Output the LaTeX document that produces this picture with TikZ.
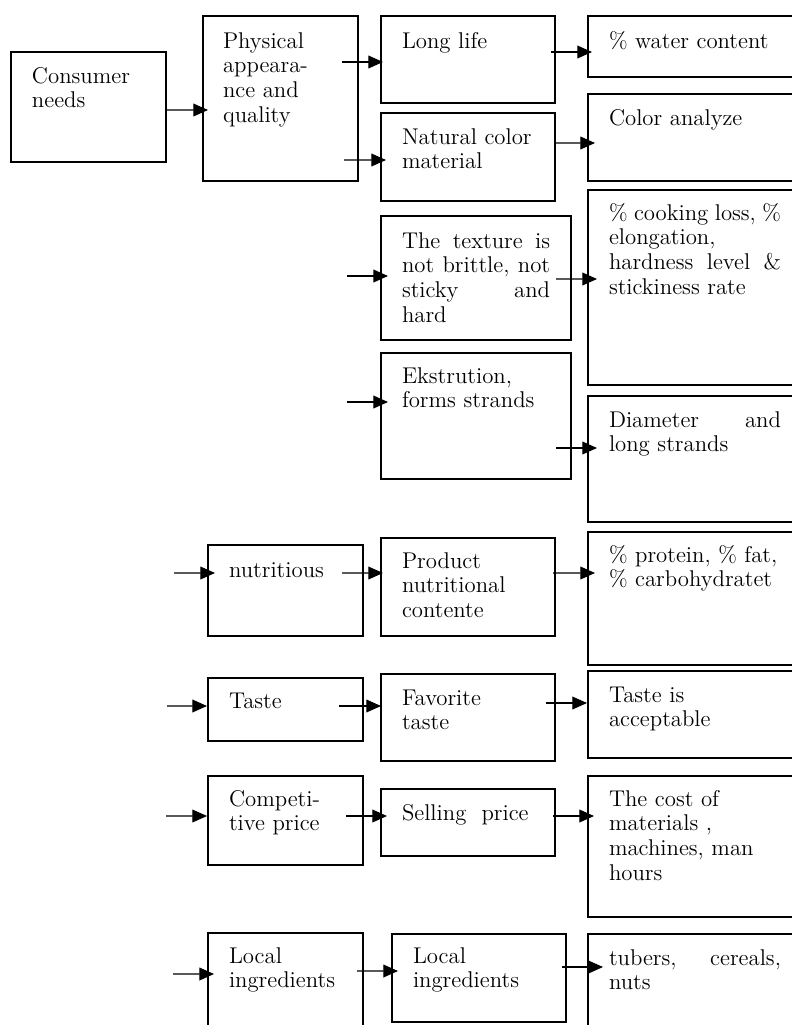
\documentclass[tikz,border=0pt]{standalone}
\usetikzlibrary{arrows.meta,calc,fit}
\newcommand\jl[2]{\leavevmode\hbox to #1{#2}}
\begin{document}
\begin{tikzpicture}[x=0.549pt,y=-0.549pt,
  bx/.style={draw, line width=0.8pt, inner sep=0pt, outer sep=0pt},
  tx/.style={anchor=base west, inner sep=0pt, outer sep=0pt, text width=110pt, align=left,
    font=\fontsize{12.5}{13.7}\selectfont},
  arr/.style={line width=0.6pt, -{Triangle[length=8pt,width=7pt]}}]
\useasboundingbox (0,0) rectangle (792,1025);
\clip (0,0) rectangle (792,1025);
% boxes
\node[bx, fit={(11,52) (166,162)}] (cn) {};
\node[bx, fit={(203,16) (358,181)}] (pa) {};
\node[bx, fit={(381,16) (555,103)}] (ll) {};
\node[bx, fit={(588,16) (800,77)}] (wc) {};
\node[bx, fit={(381,113) (555,201)}] (nc) {};
\node[bx, fit={(588,94) (800,181)}] (ca) {};
\node[bx, fit={(381,216) (571,340)}] (tx) {};
\node[bx, fit={(588,190) (800,385)}] (ck) {};
\node[bx, fit={(381,353) (571,479)}] (ek) {};
\node[bx, fit={(588,396) (800,522)}] (dm) {};
\node[bx, fit={(208,545) (363,636)}] (nu) {};
\node[bx, fit={(381,538) (555,636)}] (pn) {};
\node[bx, fit={(588,532) (800,665)}] (pr) {};
\node[bx, fit={(208,678) (363,741)}] (ta) {};
\node[bx, fit={(381,674) (555,761)}] (ft) {};
\node[bx, fit={(588,671) (800,758)}] (ti) {};
\node[bx, fit={(208,776) (363,865)}] (cp) {};
\node[bx, fit={(381,789) (555,856)}] (sp) {};
\node[bx, fit={(588,776) (800,917)}] (cm) {};
\node[bx, fit={(208,933) (363,1040)}] (l1) {};
\node[bx, fit={(392,934) (566,1022)}] (l2) {};
\node[bx, fit={(588,934) (800,1040)}] (tb) {};
% texts
\node[tx] (tcn) at ($(cn.north west)+(21,31)$) {Consumer\\needs};
\node[tx] (tpa) at ($(pa.north west)+(20,32)$) {Physical\\appeara-\\nce and\\quality};
\node[tx] (tll) at ($(ll.north west)+(21,32)$) {Long life};
\node[tx] (twc) at ($(wc.north west)+(21,32)$) {\% water content};
\node[tx] (tnc) at ($(nc.north west)+(21,31)$) {Natural color\\material};
\node[tx] (tca) at ($(ca.north west)+(21,31)$) {Color analyze};
\node[tx] (ttx) at ($(tx.north west)+(21,32)$) {\jl{81.3pt}{The\hfill texture\hfill is}\\\jl{81.3pt}{not\hfill brittle,\hfill not}\\\jl{81.3pt}{sticky\hfill and}\\hard};
\node[tx] (tck) at ($(ck.north west)+(21,30)$) {\jl{94.4pt}{\%\hfill cooking\hfill loss,\hfill \%}\\elongation,\\\jl{94.4pt}{hardness\hfill level\hfill \&}\\stickiness rate};
\node[tx] (tek) at ($(ek.north west)+(21,30)$) {Ekstrution,\\forms strands};
\node[tx] (tdm) at ($(dm.north west)+(21,31)$) {\jl{94.4pt}{Diameter\hfill and}\\long strands};
\node[tx] (tnu) at ($(nu.north west)+(21,32)$) {nutritious};
\node[tx] (tpn) at ($(pn.north west)+(21,30)$) {Product\\nutritional\\contente};
\node[tx] (tpr) at ($(pr.north west)+(21,30)$) {\% protein, \% fat,\\\% carbohydratet};
\node[tx] (tta) at ($(ta.north west)+(21,30)$) {Taste};
\node[tx] (tft) at ($(ft.north west)+(21,31)$) {Favorite\\taste};
\node[tx] (tti) at ($(ti.north west)+(21,31)$) {Taste is\\acceptable};
\node[tx] (tcp) at ($(cp.north west)+(21,30)$) {Competi-\\tive price};
\node[tx] (tsp) at ($(sp.north west)+(21,31)$) {Selling\ \ price};
\node[tx] (tcm) at ($(cm.north west)+(21,30)$) {The cost of\\materials ,\\machines, man\\hours};
\node[tx] (tl1) at ($(l1.north west)+(21,30)$) {Local\\ingredients};
\node[tx] (tl2) at ($(l2.north west)+(21,29)$) {Local\\ingredients};
\node[tx] (ttb) at ($(tb.north west)+(21,31)$) {\jl{94.4pt}{tubers,\hfill cereals,}\\nuts};
% free arrow ends
\coordinate (i1) at (347,276);
\coordinate (i2) at (347,402);
\coordinate (i3) at (174,573);
\coordinate (i4) at (167,706);
\coordinate (i5) at (166,816);
\coordinate (i6) at (173,974);
% arrows
\draw[arr] ($(cn.north east)+(0,58)$) -- ($(pa.north west)+(5,94)$);
\draw[arr] ($(pa.north east)+(-16,46)$) -- ($(ll.north west)+(2,46)$);
\draw[arr] ($(pa.north east)+(-14,144)$) -- ($(nc.north west)+(5,47)$);
\draw[arr] ($(ll.north east)+(-4,36)$) -- ($(wc.north west)+(4,36)$);
\draw[arr] ($(nc.north east)+(-1,30)$) -- ($(ca.north west)+(7,49)$);
\draw[arr] (i1) -- ($(tx.north west)+(7,60)$);
\draw[arr] ($(tx.north east)+(-15,63)$) -- ($(ck.north west)+(9,89)$);
\draw[arr] (i2) -- ($(ek.north west)+(7,49)$);
\draw[arr] ($(ek.north east)+(-15,95)$) -- ($(dm.north west)+(9,52)$);
\draw[arr] (i3) -- ($(nu.north west)+(7,28)$);
\draw[arr] ($(nu.north east)+(-21,28)$) -- ($(pn.north west)+(2,35)$);
\draw[arr] ($(pn.north east)+(-2,35)$) -- ($(pr.north west)+(7,41)$);
\draw[arr] (i4) -- ($(ta.north west)+(-1,28)$);
\draw[arr] ($(ta.north east)+(-24,28)$) -- ($(ft.north west)+(0,32)$);
\draw[arr] ($(ft.north east)+(-9,29)$) -- ($(ti.north west)+(-1,32)$);
\draw[arr] (i5) -- ($(cp.north west)+(-1,40)$);
\draw[arr] ($(cp.north east)+(-17,40)$) -- ($(sp.north west)+(6,27)$);
\draw[arr] ($(sp.north east)+(-2,27)$) -- ($(cm.north west)+(6,40)$);
\draw[arr] (i6) -- ($(l1.north west)+(6,41)$);
\draw[arr] ($(l1.north east)+(-6,38)$) -- ($(l2.north west)+(6,37)$);
\draw[arr] ($(l2.north east)+(-4,33)$) -- ($(tb.north west)+(15,33)$);
\end{tikzpicture}
\end{document}
